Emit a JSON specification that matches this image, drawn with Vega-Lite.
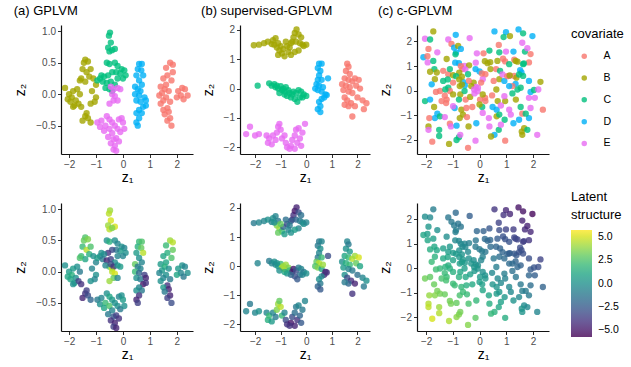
{
"$schema": "https://vega.github.io/schema/vega-lite/v6.json",
"padding": {"left": 13, "top": 4, "right": 0, "bottom": 0},
"background": "white",
"config": {
  "font": "Liberation Sans",
  "view": {"stroke": null},
  "axis": {"grid": false, "domainColor": "#111", "domainWidth": 1.2, "tickColor": "#333", "tickSize": 3.5, "tickWidth": 1, "labelColor": "#4D4D4D", "labelFontSize": 10, "labelPadding": 2, "labelFlush": false, "labelOverlap": false, "titleFontSize": 14, "titleFontWeight": "normal", "titleColor": "#000"},
  "axisX": {"titlePadding": 1},
  "axisY": {"titlePadding": 8},
  "title": {"fontSize": 13, "fontWeight": "normal", "anchor": "start", "offset": 7, "color": "#000"}
},
"datasets": {"pts": [
{"p":"a","x":1.75,"y":0.5,"c":"A","z":4},{"p":"a","x":1.85,"y":0.47,"c":"A","z":4.5},{"p":"a","x":1.6,"y":0.42,"c":"A","z":2},{"p":"a","x":1.85,"y":0.35,"c":"A","z":3},{"p":"a","x":1.65,"y":0.3,"c":"A","z":1.5},{"p":"a","x":1.5,"y":0.25,"c":"A","z":1},{"p":"a","x":1.8,"y":0.22,"c":"A","z":2.5},{"p":"a","x":1.6,"y":0.15,"c":"A","z":1},{"p":"a","x":1.4,"y":0.12,"c":"A","z":0.5},{"p":"a","x":1.55,"y":0.08,"c":"A","z":1.5},{"p":"a","x":1.7,"y":0.05,"c":"A","z":0},{"p":"a","x":1.45,"y":0.02,"c":"A","z":0.5},{"p":"a","x":1.35,"y":-0.02,"c":"A","z":-0.5},{"p":"a","x":1.6,"y":-0.05,"c":"A","z":0},{"p":"a","x":1.5,"y":-0.1,"c":"A","z":-0.5},{"p":"a","x":1.75,"y":-0.12,"c":"A","z":-1},{"p":"a","x":1.4,"y":-0.15,"c":"A","z":0},{"p":"a","x":1.65,"y":-0.22,"c":"A","z":-4},{"p":"a","x":1.5,"y":-0.25,"c":"A","z":0.5},{"p":"a","x":1.7,"y":-0.28,"c":"A","z":-4.5},{"p":"a","x":1.55,"y":-0.32,"c":"A","z":-1},{"p":"a","x":1.75,"y":-0.38,"c":"A","z":-4.5},{"p":"a","x":1.65,"y":-0.42,"c":"A","z":-3.5},{"p":"a","x":1.8,"y":-0.5,"c":"A","z":-3},{"p":"a","x":2.2,"y":0.1,"c":"A","z":0},{"p":"a","x":2.3,"y":0.08,"c":"A","z":-0.5},{"p":"a","x":2.05,"y":0.05,"c":"A","z":0.5},{"p":"a","x":2.15,"y":-0.02,"c":"A","z":-0.5},{"p":"a","x":2.4,"y":-0.02,"c":"A","z":0},{"p":"a","x":2.25,"y":-0.08,"c":"A","z":-1},{"p":"a","x":2.0,"y":-0.05,"c":"A","z":1},
{"p":"a","x":-2.15,"y":0.1,"c":"B","z":0},{"p":"a","x":-2.0,"y":0.0,"c":"B","z":0.5},{"p":"a","x":-1.9,"y":-0.05,"c":"B","z":1.5},{"p":"a","x":-1.85,"y":0.05,"c":"B","z":0.5},{"p":"a","x":-1.75,"y":-0.1,"c":"B","z":0},{"p":"a","x":-1.95,"y":-0.12,"c":"B","z":1},{"p":"a","x":-1.8,"y":-0.18,"c":"B","z":0.5},{"p":"a","x":-1.65,"y":-0.15,"c":"B","z":-3.5},{"p":"a","x":-1.6,"y":0.0,"c":"B","z":-1},{"p":"a","x":-1.7,"y":0.08,"c":"B","z":0},{"p":"a","x":-2.05,"y":-0.08,"c":"B","z":1},{"p":"a","x":-1.85,"y":-0.2,"c":"B","z":0},{"p":"a","x":-1.55,"y":-0.2,"c":"B","z":-4},{"p":"a","x":-1.4,"y":0.55,"c":"B","z":2.5},{"p":"a","x":-1.45,"y":0.5,"c":"B","z":3},{"p":"a","x":-1.3,"y":0.52,"c":"B","z":3.5},{"p":"a","x":-1.5,"y":0.4,"c":"B","z":2},{"p":"a","x":-1.35,"y":0.35,"c":"B","z":4.5},{"p":"a","x":-1.55,"y":0.25,"c":"B","z":2},{"p":"a","x":-1.25,"y":0.28,"c":"B","z":1.5},{"p":"a","x":-1.2,"y":0.4,"c":"B","z":2.5},{"p":"a","x":-1.1,"y":0.25,"c":"B","z":0},{"p":"a","x":-1.4,"y":0.2,"c":"B","z":1},{"p":"a","x":-1.6,"y":0.22,"c":"B","z":2.5},{"p":"a","x":-1.0,"y":0.15,"c":"B","z":-0.5},{"p":"a","x":-1.15,"y":0.05,"c":"B","z":-0.5},{"p":"a","x":-1.0,"y":-0.05,"c":"B","z":0},{"p":"a","x":-1.05,"y":-0.12,"c":"B","z":-0.5},{"p":"a","x":-1.2,"y":-0.15,"c":"B","z":0},{"p":"a","x":-1.5,"y":-0.42,"c":"B","z":-4.5},{"p":"a","x":-1.4,"y":-0.35,"c":"B","z":-4},{"p":"a","x":-1.3,"y":-0.38,"c":"B","z":-3},{"p":"a","x":-1.2,"y":-0.45,"c":"B","z":-2},{"p":"a","x":-1.35,"y":-0.3,"c":"B","z":-3.5},
{"p":"a","x":-0.48,"y":0.98,"c":"C","z":4},{"p":"a","x":-0.52,"y":0.93,"c":"C","z":4.5},{"p":"a","x":-0.45,"y":0.82,"c":"C","z":5},{"p":"a","x":-0.55,"y":0.74,"c":"C","z":4},{"p":"a","x":-0.3,"y":0.72,"c":"C","z":5},{"p":"a","x":-0.5,"y":0.68,"c":"C","z":4.5},{"p":"a","x":-0.4,"y":0.7,"c":"C","z":3.5},{"p":"a","x":-0.6,"y":0.5,"c":"C","z":0},{"p":"a","x":-0.5,"y":0.48,"c":"C","z":1.5},{"p":"a","x":-0.3,"y":0.5,"c":"C","z":0},{"p":"a","x":-0.2,"y":0.45,"c":"C","z":-0.5},{"p":"a","x":-0.05,"y":0.4,"c":"C","z":0},{"p":"a","x":0.05,"y":0.38,"c":"C","z":-0.5},{"p":"a","x":0.1,"y":0.3,"c":"C","z":0},{"p":"a","x":-0.1,"y":0.33,"c":"C","z":0.5},{"p":"a","x":0.0,"y":0.25,"c":"C","z":-0.5},{"p":"a","x":-0.25,"y":0.35,"c":"C","z":-1},{"p":"a","x":-0.4,"y":0.35,"c":"C","z":-3},{"p":"a","x":-0.55,"y":0.3,"c":"C","z":-4},{"p":"a","x":-0.7,"y":0.28,"c":"C","z":-0.5},{"p":"a","x":-0.85,"y":0.25,"c":"C","z":0},{"p":"a","x":-0.95,"y":0.22,"c":"C","z":0.5},{"p":"a","x":-0.75,"y":0.2,"c":"C","z":-1},{"p":"a","x":-0.6,"y":0.18,"c":"C","z":-4.5},{"p":"a","x":-0.45,"y":0.2,"c":"C","z":-3.5},{"p":"a","x":-0.3,"y":0.15,"c":"C","z":0},{"p":"a","x":-0.5,"y":0.08,"c":"C","z":3},{"p":"a","x":-0.65,"y":0.1,"c":"C","z":-0.5},{"p":"a","x":-0.4,"y":0.05,"c":"C","z":5},{"p":"a","x":-0.2,"y":0.25,"c":"C","z":-0.5},{"p":"a","x":-0.8,"y":0.3,"c":"C","z":0},
{"p":"a","x":0.6,"y":0.48,"c":"D","z":2},{"p":"a","x":0.7,"y":0.48,"c":"D","z":2.5},{"p":"a","x":0.55,"y":0.4,"c":"D","z":1.5},{"p":"a","x":0.68,"y":0.38,"c":"D","z":3},{"p":"a","x":0.75,"y":0.3,"c":"D","z":4.5},{"p":"a","x":0.5,"y":0.3,"c":"D","z":0.5},{"p":"a","x":0.6,"y":0.22,"c":"D","z":0},{"p":"a","x":0.7,"y":0.15,"c":"D","z":-0.5},{"p":"a","x":0.45,"y":0.12,"c":"D","z":3},{"p":"a","x":0.55,"y":0.08,"c":"D","z":-1},{"p":"a","x":0.65,"y":0.05,"c":"D","z":-0.5},{"p":"a","x":0.45,"y":0.0,"c":"D","z":2},{"p":"a","x":0.6,"y":-0.02,"c":"D","z":-2},{"p":"a","x":0.8,"y":-0.05,"c":"D","z":-3.5},{"p":"a","x":0.5,"y":-0.1,"c":"D","z":0},{"p":"a","x":0.65,"y":-0.12,"c":"D","z":-1},{"p":"a","x":0.85,"y":-0.1,"c":"D","z":-4.5},{"p":"a","x":0.75,"y":-0.2,"c":"D","z":-5},{"p":"a","x":0.6,"y":-0.25,"c":"D","z":-0.5},{"p":"a","x":0.5,"y":-0.3,"c":"D","z":0},{"p":"a","x":0.7,"y":-0.3,"c":"D","z":-1},{"p":"a","x":0.6,"y":-0.38,"c":"D","z":-4},{"p":"a","x":0.5,"y":-0.45,"c":"D","z":-4.5},{"p":"a","x":0.55,"y":-0.5,"c":"D","z":-3.5},{"p":"a","x":0.85,"y":-0.18,"c":"D","z":-4},
{"p":"a","x":-0.45,"y":0.12,"c":"E","z":-3},{"p":"a","x":-0.35,"y":0.08,"c":"E","z":-4},{"p":"a","x":-0.2,"y":0.1,"c":"E","z":0},{"p":"a","x":-0.1,"y":0.08,"c":"E","z":0.5},{"p":"a","x":-0.4,"y":0.0,"c":"E","z":4.5},{"p":"a","x":-0.3,"y":-0.03,"c":"E","z":5},{"p":"a","x":-0.35,"y":-0.1,"c":"E","z":3},{"p":"a","x":-0.5,"y":-0.15,"c":"E","z":4},{"p":"a","x":-0.2,"y":-0.1,"c":"E","z":-0.5},{"p":"a","x":-0.95,"y":-0.45,"c":"E","z":-1},{"p":"a","x":-0.8,"y":-0.42,"c":"E","z":-0.5},{"p":"a","x":-0.85,"y":-0.52,"c":"E","z":0},{"p":"a","x":-0.6,"y":-0.35,"c":"E","z":0},{"p":"a","x":-0.5,"y":-0.4,"c":"E","z":1},{"p":"a","x":-0.4,"y":-0.45,"c":"E","z":0.5},{"p":"a","x":-0.65,"y":-0.5,"c":"E","z":2},{"p":"a","x":-0.7,"y":-0.58,"c":"E","z":1},{"p":"a","x":-0.5,"y":-0.55,"c":"E","z":2.5},{"p":"a","x":-0.3,"y":-0.5,"c":"E","z":0},{"p":"a","x":-0.15,"y":-0.4,"c":"E","z":-0.5},{"p":"a","x":-0.05,"y":-0.38,"c":"E","z":0},{"p":"a","x":0.0,"y":-0.45,"c":"E","z":0.5},{"p":"a","x":-0.2,"y":-0.55,"c":"E","z":0},{"p":"a","x":-0.1,"y":-0.6,"c":"E","z":-1},{"p":"a","x":-0.4,"y":-0.62,"c":"E","z":-0.5},{"p":"a","x":-0.55,"y":-0.68,"c":"E","z":-1},{"p":"a","x":-0.35,"y":-0.72,"c":"E","z":-2.5},{"p":"a","x":-0.25,"y":-0.7,"c":"E","z":-3.5},{"p":"a","x":-0.45,"y":-0.78,"c":"E","z":-4},{"p":"a","x":-0.3,"y":-0.82,"c":"E","z":-4.5},{"p":"a","x":-0.15,"y":-0.75,"c":"E","z":-4},{"p":"a","x":-0.35,"y":-0.88,"c":"E","z":-3.5},{"p":"a","x":-0.25,"y":-0.9,"c":"E","z":-4.5},{"p":"a","x":0.05,"y":-0.55,"c":"E","z":0},
{"p":"b","x":-2.05,"y":1.48,"c":"B","z":-1},{"p":"b","x":-1.85,"y":1.5,"c":"B","z":-0.5},{"p":"b","x":-1.65,"y":1.55,"c":"B","z":-0.5},{"p":"b","x":-1.5,"y":1.6,"c":"B","z":0},{"p":"b","x":-1.35,"y":1.52,"c":"B","z":-0.5},{"p":"b","x":-1.3,"y":1.65,"c":"B","z":0},{"p":"b","x":-1.2,"y":1.72,"c":"B","z":-0.5},{"p":"b","x":-1.1,"y":1.55,"c":"B","z":-1},{"p":"b","x":-1.15,"y":1.4,"c":"B","z":3.5},{"p":"b","x":-1.05,"y":1.3,"c":"B","z":4},{"p":"b","x":-0.95,"y":1.2,"c":"B","z":2},{"p":"b","x":-1.1,"y":1.15,"c":"B","z":3},{"p":"b","x":-0.85,"y":1.1,"c":"B","z":0.5},{"p":"b","x":-0.9,"y":1.35,"c":"B","z":-2},{"p":"b","x":-0.75,"y":1.45,"c":"B","z":-3},{"p":"b","x":-0.7,"y":1.25,"c":"B","z":-0.5},{"p":"b","x":-0.6,"y":1.15,"c":"B","z":0},{"p":"b","x":-0.55,"y":1.6,"c":"B","z":-3.5},{"p":"b","x":-0.5,"y":1.75,"c":"B","z":-4},{"p":"b","x":-0.45,"y":1.9,"c":"B","z":-5},{"p":"b","x":-0.38,"y":2.02,"c":"B","z":-4.5},{"p":"b","x":-0.3,"y":1.85,"c":"B","z":-3},{"p":"b","x":-0.4,"y":1.6,"c":"B","z":-2},{"p":"b","x":-0.25,"y":1.55,"c":"B","z":-1},{"p":"b","x":-0.15,"y":1.5,"c":"B","z":-0.5},{"p":"b","x":-0.1,"y":1.45,"c":"B","z":0},{"p":"b","x":-0.3,"y":1.3,"c":"B","z":-0.5},{"p":"b","x":-0.45,"y":1.25,"c":"B","z":0.5},{"p":"b","x":0.0,"y":1.5,"c":"B","z":-0.5},{"p":"b","x":-0.6,"y":1.55,"c":"B","z":-2.5},{"p":"b","x":-0.8,"y":1.6,"c":"B","z":-1.5},{"p":"b","x":-0.2,"y":1.75,"c":"B","z":-1.5},{"p":"b","x":-1.0,"y":1.45,"c":"B","z":3},{"p":"b","x":-0.65,"y":1.4,"c":"B","z":-1},{"p":"b","x":-1.25,"y":1.5,"c":"B","z":0},
{"p":"b","x":-1.9,"y":0.1,"c":"C","z":-0.5},{"p":"b","x":-1.45,"y":0.18,"c":"C","z":-1},{"p":"b","x":-1.35,"y":0.1,"c":"C","z":-0.5},{"p":"b","x":-1.25,"y":0.15,"c":"C","z":0},{"p":"b","x":-1.2,"y":0.05,"c":"C","z":-0.5},{"p":"b","x":-1.1,"y":0.0,"c":"C","z":0.5},{"p":"b","x":-1.0,"y":0.08,"c":"C","z":2},{"p":"b","x":-0.95,"y":-0.05,"c":"C","z":4.5},{"p":"b","x":-0.85,"y":-0.1,"c":"C","z":5},{"p":"b","x":-0.8,"y":0.05,"c":"C","z":4},{"p":"b","x":-0.7,"y":-0.05,"c":"C","z":3.5},{"p":"b","x":-0.65,"y":-0.15,"c":"C","z":2},{"p":"b","x":-0.55,"y":-0.2,"c":"C","z":-4.5},{"p":"b","x":-0.5,"y":-0.1,"c":"C","z":-5},{"p":"b","x":-0.4,"y":-0.15,"c":"C","z":-3},{"p":"b","x":-0.3,"y":-0.05,"c":"C","z":-1},{"p":"b","x":-0.2,"y":-0.1,"c":"C","z":-0.5},{"p":"b","x":-0.1,"y":-0.2,"c":"C","z":-1},{"p":"b","x":0.0,"y":-0.25,"c":"C","z":0},{"p":"b","x":-0.25,"y":-0.3,"c":"C","z":-1.5},{"p":"b","x":-0.45,"y":-0.35,"c":"C","z":-3},{"p":"b","x":-0.6,"y":-0.3,"c":"C","z":-2},{"p":"b","x":-0.75,"y":-0.25,"c":"C","z":0},{"p":"b","x":-1.05,"y":-0.15,"c":"C","z":0},{"p":"b","x":-0.35,"y":-0.45,"c":"C","z":-2.5},{"p":"b","x":-0.15,"y":-0.3,"c":"C","z":-0.5},{"p":"b","x":-0.85,"y":-0.2,"c":"C","z":1},{"p":"b","x":-1.15,"y":0.1,"c":"C","z":0},{"p":"b","x":-0.9,"y":0.0,"c":"C","z":4},
{"p":"b","x":0.5,"y":0.85,"c":"D","z":-1},{"p":"b","x":0.6,"y":0.85,"c":"D","z":-0.5},{"p":"b","x":0.45,"y":0.7,"c":"D","z":-1},{"p":"b","x":0.55,"y":0.6,"c":"D","z":0},{"p":"b","x":0.5,"y":0.45,"c":"D","z":-0.5},{"p":"b","x":0.45,"y":0.3,"c":"D","z":-1},{"p":"b","x":0.4,"y":0.15,"c":"D","z":3},{"p":"b","x":0.5,"y":0.1,"c":"D","z":4.5},{"p":"b","x":0.35,"y":0.0,"c":"D","z":2.5},{"p":"b","x":0.45,"y":-0.05,"c":"D","z":3.5},{"p":"b","x":0.6,"y":-0.1,"c":"D","z":1},{"p":"b","x":0.75,"y":-0.2,"c":"D","z":-5},{"p":"b","x":0.7,"y":-0.3,"c":"D","z":-4.5},{"p":"b","x":0.8,"y":-0.22,"c":"D","z":-4},{"p":"b","x":0.6,"y":-0.35,"c":"D","z":-0.5},{"p":"b","x":0.5,"y":-0.45,"c":"D","z":0},{"p":"b","x":0.55,"y":-0.6,"c":"D","z":-1},{"p":"b","x":0.45,"y":-0.7,"c":"D","z":-2},{"p":"b","x":0.55,"y":-0.8,"c":"D","z":-2.5},{"p":"b","x":0.6,"y":0.3,"c":"D","z":2},{"p":"b","x":0.85,"y":0.35,"c":"D","z":-3},{"p":"b","x":0.65,"y":0.05,"c":"D","z":4},
{"p":"b","x":1.6,"y":0.85,"c":"A","z":-0.5},{"p":"b","x":1.65,"y":0.75,"c":"A","z":-1},{"p":"b","x":1.55,"y":0.6,"c":"A","z":0},{"p":"b","x":1.7,"y":0.5,"c":"A","z":0.5},{"p":"b","x":1.5,"y":0.35,"c":"A","z":1},{"p":"b","x":1.65,"y":0.3,"c":"A","z":2},{"p":"b","x":1.8,"y":0.25,"c":"A","z":4.5},{"p":"b","x":1.9,"y":0.35,"c":"A","z":4},{"p":"b","x":2.05,"y":0.3,"c":"A","z":5},{"p":"b","x":1.4,"y":0.15,"c":"A","z":0},{"p":"b","x":1.55,"y":0.1,"c":"A","z":1.5},{"p":"b","x":1.7,"y":0.05,"c":"A","z":2},{"p":"b","x":1.95,"y":0.1,"c":"A","z":3},{"p":"b","x":2.1,"y":0.0,"c":"A","z":1},{"p":"b","x":1.45,"y":-0.05,"c":"A","z":0.5},{"p":"b","x":1.65,"y":-0.1,"c":"A","z":-0.5},{"p":"b","x":1.8,"y":-0.15,"c":"A","z":-1},{"p":"b","x":1.5,"y":-0.3,"c":"A","z":0},{"p":"b","x":1.6,"y":-0.4,"c":"A","z":-3},{"p":"b","x":1.75,"y":-0.5,"c":"A","z":-4},{"p":"b","x":1.65,"y":-0.6,"c":"A","z":-2},{"p":"b","x":1.9,"y":-0.6,"c":"A","z":-4.5},{"p":"b","x":1.8,"y":-0.95,"c":"A","z":-4},{"p":"b","x":2.2,"y":-0.4,"c":"A","z":-0.5},{"p":"b","x":2.35,"y":-0.5,"c":"A","z":0},{"p":"b","x":2.25,"y":-0.7,"c":"A","z":-1},{"p":"b","x":2.0,"y":-0.3,"c":"A","z":-1.5},{"p":"b","x":1.5,"y":-0.55,"c":"A","z":-1},
{"p":"b","x":-2.35,"y":-1.55,"c":"E","z":-0.5},{"p":"b","x":-2.2,"y":-1.3,"c":"E","z":-1},{"p":"b","x":-2.0,"y":-1.6,"c":"E","z":-0.5},{"p":"b","x":-1.85,"y":-1.55,"c":"E","z":0},{"p":"b","x":-1.55,"y":-1.6,"c":"E","z":-0.5},{"p":"b","x":-1.5,"y":-1.85,"c":"E","z":1.5},{"p":"b","x":-1.45,"y":-1.7,"c":"E","z":2},{"p":"b","x":-1.35,"y":-1.9,"c":"E","z":0.5},{"p":"b","x":-1.3,"y":-1.6,"c":"E","z":-0.5},{"p":"b","x":-1.2,"y":-1.75,"c":"E","z":-1},{"p":"b","x":-1.15,"y":-1.5,"c":"E","z":3.5},{"p":"b","x":-1.1,"y":-1.3,"c":"E","z":4},{"p":"b","x":-1.0,"y":-1.4,"c":"E","z":4.5},{"p":"b","x":-0.95,"y":-1.7,"c":"E","z":2},{"p":"b","x":-0.85,"y":-1.6,"c":"E","z":-0.5},{"p":"b","x":-0.8,"y":-1.85,"c":"E","z":-3},{"p":"b","x":-0.75,"y":-2.0,"c":"E","z":-4},{"p":"b","x":-0.6,"y":-1.95,"c":"E","z":-5},{"p":"b","x":-0.55,"y":-1.75,"c":"E","z":-3},{"p":"b","x":-0.45,"y":-1.6,"c":"E","z":-1.5},{"p":"b","x":-0.4,"y":-1.4,"c":"E","z":-1},{"p":"b","x":-0.3,"y":-1.35,"c":"E","z":-0.5},{"p":"b","x":-0.35,"y":-1.85,"c":"E","z":-4},{"p":"b","x":-0.45,"y":-2.05,"c":"E","z":-4.5},{"p":"b","x":-0.25,"y":-1.7,"c":"E","z":-2},{"p":"b","x":-0.15,"y":-1.5,"c":"E","z":-1},{"p":"b","x":-0.05,"y":-1.2,"c":"E","z":-0.5},{"p":"b","x":-0.2,"y":-1.95,"c":"E","z":-2.5},{"p":"b","x":-1.05,"y":-1.2,"c":"E","z":3},{"p":"b","x":-0.65,"y":-2.05,"c":"E","z":-4},
{"p":"c","x":-1.73,"y":2.41,"c":"B","z":-0.9},{"p":"c","x":-2.04,"y":2.11,"c":"E","z":-0.1},{"p":"c","x":-1.85,"y":2.08,"c":"C","z":-0.3},{"p":"c","x":-1.17,"y":2.08,"c":"E","z":-1.2},{"p":"c","x":-0.89,"y":2.27,"c":"D","z":-1.8},{"p":"c","x":-0.37,"y":2.14,"c":"E","z":-2.3},{"p":"c","x":0.56,"y":2.41,"c":"D","z":-3.9},{"p":"c","x":0.99,"y":2.38,"c":"D","z":-4.4},{"p":"c","x":1.14,"y":2.22,"c":"B","z":-4.4},{"p":"c","x":1.46,"y":2.49,"c":"D","z":-5.1},{"p":"c","x":1.63,"y":2.33,"c":"C","z":-5.1},{"p":"c","x":1.98,"y":2.22,"c":"D","z":-5.5},{"p":"c","x":0.9,"y":2.18,"c":"C","z":-4.0},{"p":"c","x":-1.05,"y":1.9,"c":"A","z":-1.1},{"p":"c","x":-2.1,"y":1.36,"c":"D","z":1.0},{"p":"c","x":-1.91,"y":1.7,"c":"A","z":0.3},{"p":"c","x":-1.58,"y":1.56,"c":"E","z":0.0},{"p":"c","x":-0.95,"y":1.75,"c":"D","z":-1.0},{"p":"c","x":-0.88,"y":1.55,"c":"D","z":-0.9},{"p":"c","x":-0.9,"y":1.48,"c":"C","z":-0.8},{"p":"c","x":-0.8,"y":1.82,"c":"B","z":-1.3},{"p":"c","x":-0.7,"y":1.7,"c":"D","z":-1.3},{"p":"c","x":-0.1,"y":1.52,"c":"E","z":-1.9},{"p":"c","x":0.15,"y":1.52,"c":"A","z":-2.2},{"p":"c","x":0.37,"y":1.63,"c":"C","z":-2.6},{"p":"c","x":0.72,"y":1.86,"c":"A","z":-3.4},{"p":"c","x":0.74,"y":1.56,"c":"C","z":-3.0},{"p":"c","x":0.99,"y":1.59,"c":"E","z":-3.4},{"p":"c","x":1.27,"y":1.59,"c":"D","z":-3.7},{"p":"c","x":1.6,"y":1.95,"c":"E","z":-4.6},{"p":"c","x":1.7,"y":1.59,"c":"C","z":-4.3},{"p":"c","x":1.79,"y":1.73,"c":"E","z":-4.6},{"p":"c","x":1.91,"y":1.49,"c":"A","z":-4.4},{"p":"c","x":-1.94,"y":1.15,"c":"E","z":1.0},{"p":"c","x":-1.95,"y":1.4,"c":"A","z":0.7},{"p":"c","x":-1.69,"y":0.88,"c":"C","z":1.1},{"p":"c","x":-1.85,"y":0.77,"c":"B","z":1.4},{"p":"c","x":-1.6,"y":0.74,"c":"B","z":1.1},{"p":"c","x":-1.67,"y":0.47,"c":"B","z":1.6},{"p":"c","x":-1.23,"y":1.29,"c":"B","z":-0.1},{"p":"c","x":-1.36,"y":0.81,"c":"A","z":0.7},{"p":"c","x":-1.17,"y":0.67,"c":"A","z":0.6},{"p":"c","x":-1.11,"y":0.88,"c":"C","z":0.3},{"p":"c","x":-0.99,"y":0.63,"c":"B","z":0.5},{"p":"c","x":-1.36,"y":0.4,"c":"C","z":1.2},{"p":"c","x":-1.79,"y":0.26,"c":"D","z":2.0},{"p":"c","x":-0.77,"y":1.12,"c":"D","z":-0.5},{"p":"c","x":-0.64,"y":0.88,"c":"A","z":-0.3},{"p":"c","x":-0.56,"y":1.01,"c":"E","z":-0.6},{"p":"c","x":0.2,"y":1.2,"c":"B","z":-1.8},{"p":"c","x":0.3,"y":1.12,"c":"B","z":-1.8},{"p":"c","x":0.4,"y":1.16,"c":"B","z":-2.0},{"p":"c","x":-0.15,"y":0.88,"c":"D","z":-1.0},{"p":"c","x":0.0,"y":0.78,"c":"D","z":-1.0},{"p":"c","x":0.22,"y":0.67,"c":"A","z":-1.2},{"p":"c","x":0.41,"y":0.88,"c":"B","z":-1.7},{"p":"c","x":0.62,"y":0.88,"c":"A","z":-2.0},{"p":"c","x":0.77,"y":0.81,"c":"C","z":-2.1},{"p":"c","x":0.96,"y":1.19,"c":"A","z":-2.8},{"p":"c","x":1.11,"y":1.08,"c":"C","z":-2.8},{"p":"c","x":1.3,"y":1.26,"c":"A","z":-3.3},{"p":"c","x":1.42,"y":1.18,"c":"B","z":-3.4},{"p":"c","x":1.63,"y":1.08,"c":"C","z":-3.5},{"p":"c","x":1.85,"y":1.15,"c":"A","z":-3.9},{"p":"c","x":1.11,"y":0.6,"c":"E","z":-2.2},{"p":"c","x":1.3,"y":0.6,"c":"A","z":-2.5},{"p":"c","x":1.38,"y":0.53,"c":"B","z":-2.5},{"p":"c","x":1.57,"y":0.74,"c":"D","z":-3.0},{"p":"c","x":1.63,"y":0.6,"c":"C","z":-2.9},{"p":"c","x":1.85,"y":0.4,"c":"D","z":-2.9},{"p":"c","x":2.28,"y":0.36,"c":"B","z":-3.4},{"p":"c","x":0.74,"y":0.47,"c":"B","z":-1.6},{"p":"c","x":0.93,"y":0.4,"c":"D","z":-1.7},{"p":"c","x":0.53,"y":0.4,"c":"A","z":-1.2},{"p":"c","x":0.12,"y":0.47,"c":"E","z":-0.8},{"p":"c","x":-0.22,"y":0.33,"c":"B","z":-0.1},{"p":"c","x":-0.4,"y":0.4,"c":"A","z":0.0},{"p":"c","x":-0.62,"y":0.36,"c":"D","z":0.3},{"p":"c","x":-0.74,"y":0.19,"c":"B","z":0.7},{"p":"c","x":-0.99,"y":0.33,"c":"A","z":0.9},{"p":"c","x":-1.17,"y":0.12,"c":"C","z":1.4},{"p":"c","x":-1.48,"y":-0.01,"c":"A","z":1.9},{"p":"c","x":-1.63,"y":-0.05,"c":"A","z":2.2},{"p":"c","x":-2.04,"y":-0.42,"c":"C","z":3.2},{"p":"c","x":-1.85,"y":-0.36,"c":"D","z":2.9},{"p":"c","x":-1.7,"y":-0.66,"c":"B","z":3.1},{"p":"c","x":-1.58,"y":-0.93,"c":"D","z":3.3},{"p":"c","x":-1.11,"y":-0.01,"c":"A","z":1.5},{"p":"c","x":-0.99,"y":-0.15,"c":"B","z":1.5},{"p":"c","x":-1.23,"y":-0.36,"c":"A","z":2.1},{"p":"c","x":-0.72,"y":-0.15,"c":"B","z":1.1},{"p":"c","x":-0.52,"y":-0.36,"c":"A","z":1.1},{"p":"c","x":-0.35,"y":-0.25,"c":"B","z":0.8},{"p":"c","x":-0.19,"y":-0.11,"c":"E","z":0.4},{"p":"c","x":-0.06,"y":0.12,"c":"E","z":-0.1},{"p":"c","x":0.02,"y":-0.36,"c":"A","z":0.4},{"p":"c","x":0.22,"y":-0.42,"c":"A","z":0.3},{"p":"c","x":0.47,"y":-0.19,"c":"A","z":-0.4},{"p":"c","x":0.68,"y":-0.42,"c":"B","z":-0.3},{"p":"c","x":1.23,"y":-0.11,"c":"C","z":-1.5},{"p":"c","x":1.85,"y":-0.29,"c":"E","z":-2.0},{"p":"c","x":2.07,"y":-0.29,"c":"E","z":-2.3},{"p":"c","x":1.91,"y":-0.05,"c":"D","z":-2.4},{"p":"c","x":2.04,"y":0.03,"c":"C","z":-2.7},{"p":"c","x":2.2,"y":0.05,"c":"E","z":-2.9},{"p":"c","x":1.36,"y":-0.36,"c":"B","z":-1.3},{"p":"c","x":-0.93,"y":-0.7,"c":"D","z":2.1},{"p":"c","x":-0.68,"y":-0.77,"c":"B","z":1.9},{"p":"c","x":-0.49,"y":-0.7,"c":"A","z":1.5},{"p":"c","x":-0.27,"y":-0.66,"c":"A","z":1.2},{"p":"c","x":0.1,"y":-0.66,"c":"C","z":0.7},{"p":"c","x":0.49,"y":-0.66,"c":"D","z":0.2},{"p":"c","x":0.64,"y":-0.77,"c":"D","z":0.2},{"p":"c","x":0.8,"y":-0.6,"c":"E","z":-0.3},{"p":"c","x":0.96,"y":-0.42,"c":"B","z":-0.7},{"p":"c","x":1.11,"y":-0.77,"c":"E","z":-0.4},{"p":"c","x":1.54,"y":-0.66,"c":"C","z":-1.1},{"p":"c","x":1.6,"y":-0.93,"c":"A","z":-0.9},{"p":"c","x":2.37,"y":-0.77,"c":"A","z":-2.1},{"p":"c","x":-1.67,"y":-1.11,"c":"D","z":3.6},{"p":"c","x":-1.88,"y":-1.11,"c":"A","z":3.9},{"p":"c","x":-1.48,"y":-1.04,"c":"C","z":3.3},{"p":"c","x":-1.3,"y":-1.07,"c":"E","z":3.1},{"p":"c","x":-0.74,"y":-1.11,"c":"B","z":2.4},{"p":"c","x":-0.62,"y":-0.97,"c":"B","z":2.1},{"p":"c","x":-0.47,"y":-1.07,"c":"A","z":2.0},{"p":"c","x":-0.12,"y":-1.32,"c":"D","z":1.9},{"p":"c","x":0.35,"y":-1.11,"c":"E","z":1.0},{"p":"c","x":0.64,"y":-1.04,"c":"B","z":0.5},{"p":"c","x":0.74,"y":-0.97,"c":"C","z":0.3},{"p":"c","x":0.94,"y":-1.18,"c":"C","z":0.3},{"p":"c","x":1.17,"y":-0.97,"c":"E","z":-0.3},{"p":"c","x":1.27,"y":-1.32,"c":"D","z":0.1},{"p":"c","x":1.85,"y":-1.11,"c":"D","z":-1.0},{"p":"c","x":1.73,"y":-0.93,"c":"C","z":-1.0},{"p":"c","x":-1.11,"y":-1.34,"c":"A","z":3.2},{"p":"c","x":-1.07,"y":-1.45,"c":"E","z":3.3},{"p":"c","x":-0.86,"y":-1.42,"c":"D","z":3.0},{"p":"c","x":-1.91,"y":-1.45,"c":"B","z":4.4},{"p":"c","x":-1.91,"y":-1.59,"c":"E","z":4.6},{"p":"c","x":-1.51,"y":-1.59,"c":"C","z":4.0},{"p":"c","x":-1.51,"y":-1.84,"c":"C","z":4.4},{"p":"c","x":-0.41,"y":-1.45,"c":"B","z":2.4},{"p":"c","x":0.37,"y":-1.45,"c":"E","z":1.4},{"p":"c","x":0.56,"y":-1.79,"c":"D","z":1.6},{"p":"c","x":0.43,"y":-1.86,"c":"B","z":1.9},{"p":"c","x":0.72,"y":-1.59,"c":"C","z":1.1},{"p":"c","x":0.8,"y":-1.38,"c":"E","z":0.8},{"p":"c","x":1.67,"y":-1.52,"c":"B","z":-0.2},{"p":"c","x":1.58,"y":-1.66,"c":"B","z":0.1},{"p":"c","x":1.6,"y":-1.79,"c":"B","z":0.2},{"p":"c","x":1.79,"y":-1.59,"c":"C","z":-0.3},{"p":"c","x":2.16,"y":-1.79,"c":"E","z":-0.5},{"p":"c","x":-1.77,"y":-2.07,"c":"A","z":5.0},{"p":"c","x":-1.14,"y":-2.16,"c":"B","z":4.3},{"p":"c","x":-0.86,"y":-2.0,"c":"C","z":3.7},{"p":"c","x":-0.77,"y":-1.89,"c":"C","z":3.5},{"p":"c","x":-0.72,"y":-1.79,"c":"E","z":3.3},{"p":"c","x":-0.15,"y":-2.03,"c":"E","z":2.8},{"p":"c","x":-0.43,"y":-2.32,"c":"A","z":3.6},{"p":"c","x":0.96,"y":-2.03,"c":"A","z":1.4},{"p":"c","x":-1.73,"y":1.21,"c":"C","z":0.7},{"p":"c","x":-0.91,"y":1.14,"c":"D","z":-0.3},{"p":"c","x":-0.39,"y":1.03,"c":"B","z":-0.8},{"p":"c","x":-0.14,"y":1.14,"c":"E","z":-1.3},{"p":"c","x":-0.7,"y":1.0,"c":"A","z":-0.4},{"p":"c","x":0.67,"y":1.21,"c":"B","z":-2.4},{"p":"c","x":0.88,"y":1.3,"c":"A","z":-2.8},{"p":"c","x":1.35,"y":1.21,"c":"B","z":-3.3},{"p":"c","x":1.66,"y":1.11,"c":"C","z":-3.6},{"p":"c","x":-0.53,"y":0.87,"c":"E","z":-0.4},{"p":"c","x":0.09,"y":0.7,"c":"A","z":-1.0},{"p":"c","x":-0.76,"y":0.73,"c":"B","z":0.0},{"p":"c","x":-0.66,"y":0.57,"c":"B","z":0.1},{"p":"c","x":-0.88,"y":0.59,"c":"C","z":0.4},{"p":"c","x":0.86,"y":0.66,"c":"E","z":-2.0},{"p":"c","x":1.04,"y":0.59,"c":"A","z":-2.1},{"p":"c","x":1.13,"y":0.62,"c":"B","z":-2.3},{"p":"c","x":1.52,"y":0.84,"c":"D","z":-3.1},{"p":"c","x":1.48,"y":0.66,"c":"C","z":-2.8},{"p":"c","x":-1.19,"y":0.46,"c":"C","z":1.0},{"p":"c","x":-0.76,"y":0.46,"c":"B","z":0.4},{"p":"c","x":-0.55,"y":0.22,"c":"D","z":0.4},{"p":"c","x":-0.66,"y":0.25,"c":"B","z":0.5},{"p":"c","x":1.35,"y":0.28,"c":"D","z":-2.1},{"p":"c","x":1.54,"y":0.12,"c":"C","z":-2.2},{"p":"c","x":0.63,"y":0.05,"c":"B","z":-0.9},{"p":"c","x":-1.28,"y":0.05,"c":"C","z":1.6},{"p":"c","x":-0.14,"y":0.16,"c":"E","z":0.0},{"p":"c","x":-0.07,"y":-0.02,"c":"E","z":0.1},{"p":"c","x":-1.3,"y":-0.2,"c":"A","z":2.0},{"p":"c","x":0.21,"y":-0.29,"c":"A","z":0.1},{"p":"c","x":-1.25,"y":-0.5,"c":"A","z":2.3},{"p":"c","x":-0.43,"y":0.67,"c":"C","z":-0.3},{"p":"c","x":-0.31,"y":0.19,"c":"B","z":0.2},{"p":"c","x":-0.2,"y":0.05,"c":"E","z":0.2},{"p":"c","x":0.06,"y":0.33,"c":"A","z":-0.5},{"p":"c","x":0.12,"y":-0.15,"c":"B","z":0.0},{"p":"c","x":-0.56,"y":-0.01,"c":"C","z":0.7},{"p":"c","x":0.0,"y":-0.56,"c":"B","z":0.7},{"p":"c","x":-0.77,"y":-0.36,"c":"C","z":1.5},{"p":"c","x":-0.99,"y":-0.63,"c":"E","z":2.1},{"p":"c","x":-1.42,"y":-0.42,"c":"A","z":2.4},{"p":"c","x":0.12,"y":-0.9,"c":"E","z":1.0},{"p":"c","x":1.42,"y":0.05,"c":"C","z":-1.9},{"p":"c","x":1.23,"y":0.19,"c":"A","z":-1.8},{"p":"c","x":0.93,"y":-0.22,"c":"E","z":-0.9},{"p":"c","x":1.48,"y":-1.18,"c":"D","z":-0.4},{"p":"c","x":1.91,"y":-0.7,"c":"E","z":-1.6},{"p":"c","x":1.11,"y":0.19,"c":"D","z":-1.7}
]},
"data": {"name": "pts"},
"bounds": "flush",
"columns": 3,
"spacing": {"row": 49, "column": 47},
"resolve": {"scale": {"color": "independent", "x": "independent", "y": "independent"}, "legend": {"color": "independent"}},
"concat": [
 {"width": 132, "height": 129, "title": "(a) GPLVM", "transform": [{"filter": "datum.p === 'a'"}],
  "mark": {"type": "circle", "size": 40, "opacity": 0.8},
  "encoding": {
   "x": {"field": "x", "type": "quantitative", "scale": {"domain": [-2.3, 2.6], "nice": false, "zero": false}, "axis": {"values": [-2, -1, 0, 1, 2], "title": "z₁"}},
   "y": {"field": "y", "type": "quantitative", "scale": {"domain": [-0.95, 1.1], "nice": false, "zero": false}, "axis": {"values": [-0.5, 0, 0.5, 1], "format": ".1f", "title": "z₂"}},
   "color": {"field": "c", "type": "nominal", "scale": {"domain": ["A", "B", "C", "D", "E"], "range": ["#F8766D", "#A3A500", "#00BF7D", "#00B0F6", "#E76BF3"]}, "legend": null}}},
 {"width": 130, "height": 129, "title": "(b) supervised-GPLVM", "transform": [{"filter": "datum.p === 'b'"}],
  "mark": {"type": "circle", "size": 40, "opacity": 0.8},
  "encoding": {
   "x": {"field": "x", "type": "quantitative", "scale": {"domain": [-2.59, 2.49], "nice": false, "zero": false}, "axis": {"values": [-2, -1, 0, 1, 2], "title": "z₁"}},
   "y": {"field": "y", "type": "quantitative", "scale": {"domain": [-2.23, 2.17], "nice": false, "zero": false}, "axis": {"values": [-2, -1, 0, 1, 2], "title": "z₂"}},
   "color": {"field": "c", "type": "nominal", "scale": {"domain": ["A", "B", "C", "D", "E"], "range": ["#F8766D", "#A3A500", "#00BF7D", "#00B0F6", "#E76BF3"]}, "legend": null}}},
 {"width": 132, "height": 129, "title": "(c) c-GPLVM", "transform": [{"filter": "datum.p === 'c'"}],
  "mark": {"type": "circle", "size": 40, "opacity": 0.8},
  "encoding": {
   "x": {"field": "x", "type": "quantitative", "scale": {"domain": [-2.34, 2.6], "nice": false, "zero": false}, "axis": {"values": [-2, -1, 0, 1, 2], "title": "z₁"}},
   "y": {"field": "y", "type": "quantitative", "scale": {"domain": [-2.57, 2.67], "nice": false, "zero": false}, "axis": {"values": [-2, -1, 0, 1, 2], "title": "z₂"}},
   "color": {"field": "c", "type": "nominal", "scale": {"domain": ["A", "B", "C", "D", "E"], "range": ["#F8766D", "#A3A500", "#00BF7D", "#00B0F6", "#E76BF3"]},
     "legend": {"title": "covariate", "orient": "none", "direction": "vertical", "legendX": 154, "legendY": 3, "symbolType": "circle", "symbolSize": 30, "symbolOpacity": 0.8, "symbolStrokeWidth": 0, "labelFontSize": 10.5, "labelColor": "#000", "titleFontSize": 13, "titleFontWeight": "normal", "titleColor": "#000", "rowPadding": 10.8, "labelOffset": 14, "symbolOffset": 8, "titlePadding": 10}}}},
 {"width": 132, "height": 128, "transform": [{"filter": "datum.p === 'a'"}],
  "mark": {"type": "circle", "size": 40, "opacity": 0.8},
  "encoding": {
   "x": {"field": "x", "type": "quantitative", "scale": {"domain": [-2.3, 2.6], "nice": false, "zero": false}, "axis": {"values": [-2, -1, 0, 1, 2], "title": "z₁"}},
   "y": {"field": "y", "type": "quantitative", "scale": {"domain": [-0.95, 1.1], "nice": false, "zero": false}, "axis": {"values": [-0.5, 0, 0.5, 1], "format": ".1f", "title": "z₂"}},
   "color": {"field": "z", "type": "quantitative", "scale": {"scheme": "viridis", "domain": [-5.7, 5.7], "nice": false, "zero": false}, "legend": null}}},
 {"width": 130, "height": 128, "transform": [{"filter": "datum.p === 'b'"}],
  "mark": {"type": "circle", "size": 40, "opacity": 0.8},
  "encoding": {
   "x": {"field": "x", "type": "quantitative", "scale": {"domain": [-2.59, 2.49], "nice": false, "zero": false}, "axis": {"values": [-2, -1, 0, 1, 2], "title": "z₁"}},
   "y": {"field": "y", "type": "quantitative", "scale": {"domain": [-2.23, 2.17], "nice": false, "zero": false}, "axis": {"values": [-2, -1, 0, 1, 2], "title": "z₂"}},
   "color": {"field": "z", "type": "quantitative", "scale": {"scheme": "viridis", "domain": [-5.7, 5.7], "nice": false, "zero": false}, "legend": null}}},
 {"width": 132, "height": 128, "transform": [{"filter": "datum.p === 'c'"}],
  "mark": {"type": "circle", "size": 40, "opacity": 0.8},
  "encoding": {
   "x": {"field": "x", "type": "quantitative", "scale": {"domain": [-2.34, 2.6], "nice": false, "zero": false}, "axis": {"values": [-2, -1, 0, 1, 2], "title": "z₁"}},
   "y": {"field": "y", "type": "quantitative", "scale": {"domain": [-2.57, 2.67], "nice": false, "zero": false}, "axis": {"values": [-2, -1, 0, 1, 2], "title": "z₂"}},
   "color": {"field": "z", "type": "quantitative", "scale": {"scheme": "viridis", "domain": [-5.7, 5.7], "nice": false, "zero": false},
     "legend": {"title": ["Latent", "structure"], "orient": "none", "direction": "vertical", "legendX": 154, "legendY": -12, "gradientLength": 107, "gradientThickness": 21, "gradientStrokeWidth": 0, "values": [5, 2.5, 0, -2.5, -5], "format": ".1f", "labelOffset": 6, "labelFontSize": 10.5, "labelColor": "#000", "labelOverlap": false, "titleFontSize": 13, "titleFontWeight": "normal", "titleColor": "#000", "titleLineHeight": 18, "titlePadding": 8}}}}
]
}
